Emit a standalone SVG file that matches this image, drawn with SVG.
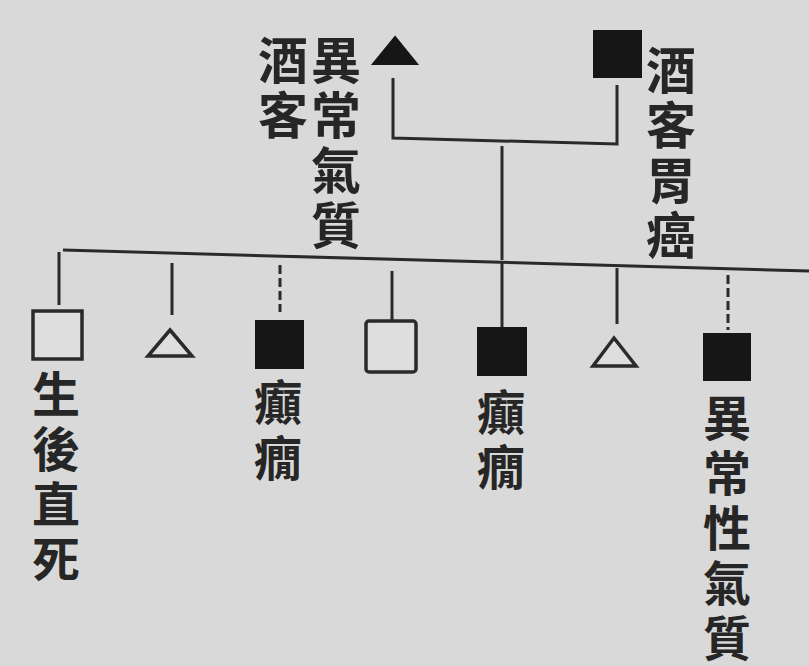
<svg xmlns="http://www.w3.org/2000/svg" width="809" height="666" viewBox="0 0 809 666">
<style>
.t{font-family:"Noto Sans CJK TC","Noto Sans CJK SC",serif;font-weight:700;fill:#262626;text-anchor:middle}
.big{font-size:50px}
.sm{font-size:48px}
.ln{stroke:#2a2a2a;stroke-width:3;fill:none}
.dash{stroke:#2a2a2a;stroke-width:3;fill:none;stroke-dasharray:9 4}
.open{fill:#dedede;stroke:#2a2a2a;stroke-width:3.5}
.fill{fill:#161616;stroke:#161616;stroke-width:2}
</style>
<rect width="809" height="666" fill="#d9d9d9"/>
<g id="connectors">
<path class="ln" d="M393 78 V138 L617 144 V85"/>
<path class="ln" d="M502 146 V260"/>
<path class="ln" stroke-width="4" d="M63 250 L809 271"/>
<path class="ln" d="M59 252 V305"/>
<path class="ln" d="M172 263 V315"/>
<path class="dash" d="M280 265 V312"/>
<path class="ln" d="M392 271 V320"/>
<path class="ln" d="M502 262 V327"/>
<path class="ln" d="M617 268 V324"/>
<path class="dash" d="M728 275 V330"/>
</g>
<g id="father">
<polygon class="fill" points="395,37 417,64 373,64"/>
<text class="t big" x="336" y="79">異</text>
<text class="t big" x="336" y="134">常</text>
<text class="t big" x="336" y="189">氣</text>
<text class="t big" x="336" y="244">質</text>
<text class="t big" x="283" y="79">酒</text>
<text class="t big" x="283" y="134">客</text>
</g>
<g id="mother">
<rect class="fill" x="594" y="31" width="47" height="46"/>
<text class="t big" x="671" y="89">酒</text>
<text class="t big" x="671" y="144">客</text>
<text class="t big" x="671" y="199">胃</text>
<text class="t big" x="671" y="254">癌</text>
</g>
<g id="child1">
<rect class="open" x="33" y="311" width="49" height="48"/>
<text class="t sm" x="56" y="412">生</text>
<text class="t sm" x="56" y="467">後</text>
<text class="t sm" x="56" y="522">直</text>
<text class="t sm" x="56" y="577">死</text>
</g>
<g id="child2">
<polygon class="open" points="170,330 192,356 148,356"/>
</g>
<g id="child3">
<rect class="fill" x="256" y="321" width="47" height="47"/>
<text class="t sm" x="278" y="420">癲</text>
<text class="t sm" x="278" y="476">癇</text>
</g>
<g id="child4">
<rect class="open" x="366" y="321" width="50" height="51" rx="3"/>
</g>
<g id="child5">
<rect class="fill" x="478" y="328" width="48" height="47"/>
<text class="t sm" x="501" y="430">癲</text>
<text class="t sm" x="501" y="485">癇</text>
</g>
<g id="child6">
<polygon class="open" points="614,338 636,366 593,366"/>
</g>
<g id="child7">
<rect class="fill" x="704" y="334" width="46" height="46"/>
<text class="t sm" x="727" y="436">異</text>
<text class="t sm" x="727" y="491">常</text>
<text class="t sm" x="727" y="546">性</text>
<text class="t sm" x="727" y="601">氣</text>
<text class="t sm" x="727" y="656">質</text>
</g>
</svg>
